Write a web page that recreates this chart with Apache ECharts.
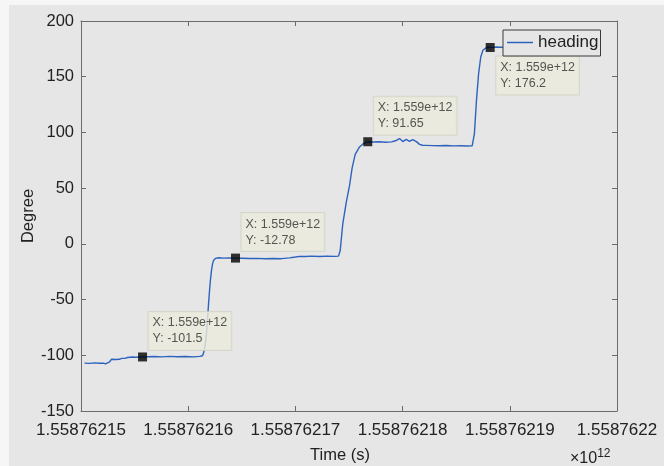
<!DOCTYPE html>
<html>
<head>
<meta charset="utf-8">
<script src="https://cdn.jsdelivr.net/npm/echarts@6/dist/echarts.min.js"></script>
<style>
  html, body { margin: 0; padding: 0; background: #f6f6f6; }
  #chart { width: 664px; height: 466px; }
</style>
</head>
<body>
<div id="chart"></div>
<script>
// Heading log: time stamps (ms since epoch) and heading angle in degrees
const TIME_BASE = 1558762150000;
const elapsedMs = [
  330, 790, 1260, 1730, 2100, 2290, 2470, 2660, 2850, 3030,
  3220, 3400, 3590, 3780, 3960, 4150, 4340, 4520, 4800, 5080,
  5460, 5740, 6200, 6860, 7510, 8260, 9000, 9750, 10490, 11050,
  11330, 11430, 11570, 11710, 11800, 11890, 11990, 12080, 12170, 12270,
  12360, 12550, 12830, 13290, 13850, 14410, 14970, 15720, 16460, 17210,
  17960, 18700, 19450, 20010, 20380, 20940, 21500, 22250, 22990, 23650,
  24020, 24180, 24420, 24740, 25045, 25290, 25570, 25980, 26350, 26750,
  27280, 27840, 28400, 28960, 29340, 29710, 30020, 30340, 30640, 30950,
  31320, 31580, 31860, 32200, 32790, 33440, 34090, 34750, 35400, 35960,
  36490, 36700, 36890, 37090, 37290, 37490, 37880, 38170, 38660, 39220,
  39970, 40720
];
const heading = [
  -107.0, -107.3, -106.8, -107.2, -107.0, -107.8, -108.5, -106.0, -103.5, -103.0,
  -103.8, -103.2, -103.6, -102.8, -103.4, -102.6, -102.0, -102.4, -101.6, -101.8,
  -101.5, -101.5, -101.3, -101.1, -101.4, -101.0, -101.3, -101.1, -101.4, -101.0,
  -100.4, -98.0, -92.0, -80.0, -68.0, -55.0, -42.0, -32.0, -24.0, -18.0,
  -15.0, -13.0, -12.5, -12.8, -12.6, -12.78, -12.9, -13.2, -13.0, -13.4,
  -13.1, -13.3, -12.6, -11.8, -11.2, -11.4, -11.0, -11.3, -11.0, -11.2,
  -11.0, -6.0, 18.0, 37.0, 52.0, 68.0, 80.0, 87.0, 90.0, 91.65,
  91.4, 91.6, 91.2, 91.5, 92.5, 94.5, 91.8, 93.8, 92.0, 93.5,
  91.5, 89.3, 88.5, 88.4, 88.2, 88.0, 88.3, 87.9, 88.1, 87.8,
  87.9, 99.0, 128.8, 152.8, 167.7, 173.7, 176.5, 176.2, 176.6, 176.4,
  176.7, 176.5
];

// Data tips pinned on the curve
const tipElapsedMs = [5740, 14410, 26750, 38170];
const tipHeading = [-101.5, -12.78, 91.65, 176.2];

// Axis ranges
const xMin = TIME_BASE, xMax = TIME_BASE + 50000, xStep = 10000;
const yMin = -150, yMax = 200, yStep = 50;

const FONT = 'Liberation Sans, Arial, sans-serif';
const AXIS_COLOR = '#6b6b6b';
const TEXT_COLOR = '#222222';
const BG = '#e6e6e6';

const lineData = elapsedMs.map((t, i) => [TIME_BASE + t, heading[i]]);

const tipData = tipElapsedMs.map((t, i) => {
  const x = TIME_BASE + t;
  const y = tipHeading[i];
  // boxes near the top of the axes flip below their marker
  const below = y > 150;
  return {
    value: [x, y],
    label: below
      ? { position: [10.5, 13.5], verticalAlign: 'top' }
      : { position: [10.5, -2.5], verticalAlign: 'bottom' }
  };
});

const tickFmt = v => {
  let s = (v / 1e12).toFixed(8);
  s = s.replace(/0+$/, '').replace(/\.$/, '');
  return s;
};

const axisCommon = {
  type: 'value',
  axisLine: { show: true, onZero: false, lineStyle: { color: AXIS_COLOR, width: 1 } },
  axisTick: { show: true, inside: true, length: 5, lineStyle: { color: AXIS_COLOR } },
  splitLine: { show: false }
};

const chart = echarts.init(document.getElementById('chart'), null, { renderer: 'canvas' });
chart.setOption({
  backgroundColor: '#f6f6f6',
  animation: false,
  textStyle: { fontFamily: FONT },
  graphic: [
    {
      type: 'rect', left: 9, top: 5, z: -10,
      shape: { width: 655, height: 461 },
      style: { fill: BG }
    },
    {
      type: 'text', left: 570, top: 448, z: 10,
      style: {
        text: '×10{sup|12}',
        font: '16px ' + FONT,
        fill: TEXT_COLOR,
        rich: {
          sup: { fontSize: 12, fontFamily: FONT, fill: TEXT_COLOR, verticalAlign: 'top', padding: [0, 0, 10, 0] }
        }
      }
    }
  ],
  grid: { left: 81, right: 47, top: 21, bottom: 55, show: false, containLabel: false, outerBoundsMode: 'none' },
  legend: {
    data: [{ name: 'heading', icon: 'rect' }],
    left: 503, top: 30,
    padding: [4, 2, 5, 4],
    itemWidth: 26, itemHeight: 1.5,
    backgroundColor: BG,
    borderColor: '#3a3a3a', borderWidth: 1,
    textStyle: { fontSize: 17, color: TEXT_COLOR, fontFamily: FONT },
    z: 6
  },
  xAxis: [
    Object.assign({}, axisCommon, {
      position: 'bottom', min: xMin, max: xMax, interval: xStep,
      name: 'Time (s)', nameLocation: 'middle', nameGap: 36, nameMoveOverlap: false,
      nameTextStyle: { fontSize: 16.5, color: TEXT_COLOR, fontFamily: FONT, padding: [0, 18, 0, 0] },
      axisLabel: { fontSize: 17, color: TEXT_COLOR, fontFamily: FONT, margin: 11, formatter: tickFmt, showMinLabel: true, showMaxLabel: true }
    }),
    Object.assign({}, axisCommon, {
      position: 'top', min: xMin, max: xMax, interval: xStep,
      axisLabel: { show: false }
    })
  ],
  yAxis: [
    Object.assign({}, axisCommon, {
      position: 'left', min: yMin, max: yMax, interval: yStep,
      name: 'Degree', nameLocation: 'middle', nameGap: 44, nameRotate: 90, nameMoveOverlap: false,
      nameTextStyle: { fontSize: 16.5, color: TEXT_COLOR, fontFamily: FONT },
      axisLabel: { fontSize: 16.5, color: TEXT_COLOR, fontFamily: FONT, margin: 7 }
    }),
    Object.assign({}, axisCommon, {
      position: 'right', min: yMin, max: yMax, interval: yStep,
      axisLabel: { show: false }
    })
  ],
  series: [
    {
      name: 'heading',
      type: 'line',
      data: lineData,
      showSymbol: false,
      smooth: false,
      lineStyle: { color: '#2d63bf', width: 1.4 },
      itemStyle: { color: '#2d63bf' },
      z: 2
    },
    {
      name: 'datatips',
      type: 'scatter',
      data: tipData,
      symbol: 'rect',
      symbolSize: 9,
      itemStyle: { color: '#000000' },
      z: 5,
      label: {
        show: true,
        align: 'left',
        formatter: p => 'X: ' + p.value[0].toExponential(3) + '\nY: ' + String(p.value[1]),
        fontSize: 12.5,
        lineHeight: 16,
        color: '#2e2e2e',
        fontFamily: FONT,
        backgroundColor: '#ebebdc',
        borderColor: '#d2d2c6',
        borderWidth: 1,
        padding: [3, 4, 3, 4]
      }
    }
  ]
});
</script>
</body>
</html>
